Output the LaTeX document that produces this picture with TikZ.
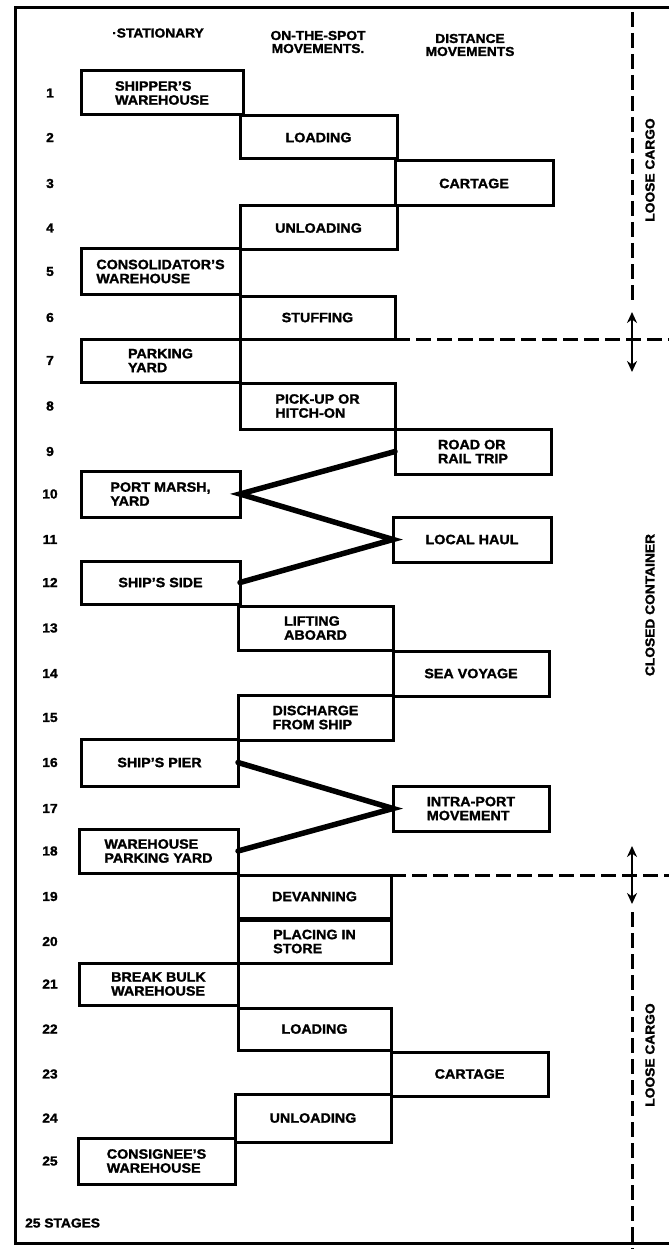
\documentclass[tikz,border=0pt]{standalone}
\usepackage{fontspec}
\setmainfont{Liberation Sans}[BoldFeatures={FakeBold=1.6,FakeStretch=1.06}]
\usetikzlibrary{arrows.meta}
\newcommand\bx[6]{\node[box, minimum width={(#4-#2)*1pt}, minimum height={(#5-#3)*1pt}] (#1) at ({(#2+#4)/2},{(#3+#5)/2}) {#6};}
\begin{document}
\begin{tikzpicture}[x=1pt,y=-1pt,
  box/.style={draw, line width=3pt, inner sep=0pt, outer sep=0pt, align=left,
    font=\bfseries\fontsize{13.5}{14}\selectfont},
  hdr/.style={font=\bfseries\fontsize{13}{13}\selectfont, align=center, inner sep=0pt},
  num/.style={font=\bfseries\fontsize{13}{13}\selectfont, inner sep=0pt},
  side/.style={font=\bfseries\fontsize{13}{13}\selectfont, rotate=90, inner sep=0pt},
  frame/.style={line width=3pt},
  link/.style={line width=5.5pt, line cap=round},
  divider/.style={line width=3pt, dash pattern=on 15pt off 6pt},
  dbl/.style={line width=2.8pt, {Stealth[length=11pt,width=10pt]}-{Stealth[length=11pt,width=10pt]}}]
\useasboundingbox (0,0) rectangle (669,1249);
% frame
\coordinate (ftr) at (669,8);
\coordinate (ftl) at (15,8);
\coordinate (fbl) at (15,1243);
\coordinate (fbr) at (669,1243);
\draw[frame] (ftr) -- (ftl) -- (fbl) -- (fbr);
% headers
\node[hdr] (h1) at (158,33) {·STATIONARY};
\node[hdr] (h2) at (318,42) {ON-THE-SPOT\\MOVEMENTS.};
\node[hdr] (h3) at (470,45) {DISTANCE\\MOVEMENTS};
% boxes
\bx{b1}{81}{71}{243}{115}{SHIPPER'S\\WAREHOUSE}
\bx{b2}{240}{116}{397}{159}{LOADING}
\bx{b3}{395}{161}{553}{206}{CARTAGE}
\bx{b4}{240}{206}{397}{250}{UNLOADING}
\bx{b5}{81}{249}{240}{294}{CONSOLIDATOR'S\\WAREHOUSE}
\bx{b6}{240}{296}{395}{339}{STUFFING}
\bx{b7}{81}{339}{240}{382}{PARKING\\YARD}
\bx{b8}{240}{383}{395}{429}{PICK-UP OR\\HITCH-ON}
\bx{b9}{395}{429}{551}{474}{ROAD OR\\RAIL TRIP}
\bx{b10}{81}{471}{240}{517}{PORT MARSH,\\YARD}
\bx{b11}{393}{517}{551}{562}{LOCAL HAUL}
\bx{b12}{81}{561}{240}{604}{SHIP'S SIDE}
\bx{b13}{238}{606}{393}{650}{LIFTING\\ABOARD}
\bx{b14}{393}{651}{549}{696}{SEA VOYAGE}
\bx{b15}{238}{695}{393}{740}{DISCHARGE\\FROM SHIP}
\bx{b16}{81}{739}{238}{786}{SHIP'S PIER}
\bx{b17}{393}{786}{549}{831}{INTRA-PORT\\MOVEMENT}
\bx{b18}{79}{829}{238}{873}{WAREHOUSE\\PARKING YARD}
\bx{b19}{238}{875}{391}{918}{DEVANNING}
\bx{b20}{238}{920}{391}{963}{PLACING IN\\STORE}
\bx{b21}{79}{963}{238}{1005}{BREAK BULK\\WAREHOUSE}
\bx{b22}{238}{1008}{391}{1050}{LOADING}
\bx{b23}{391}{1052}{548}{1096}{CARTAGE}
\bx{b24}{235}{1094}{391}{1142}{UNLOADING}
\bx{b25}{78}{1138}{235}{1184}{CONSIGNEE'S\\WAREHOUSE}
% row numbers
\foreach \i in {1,...,25}{\node[num] (n\i) at (b\i.center -| 50,0) {\i};}
\node[num, anchor=west] (stages) at (25,1223) {25 STAGES};
% diagonal links
\draw[link] (b9.west) -- (b10.east) -- (b11.west) -- (b12.east);
\draw[link] (b16.east) -- (b17.west) -- (b18.east);
% right-hand dividers
\coordinate (d1r) at (669,339);
\coordinate (d2r) at (669,875);
\draw[divider] (b6.south east) -- (d1r);
\draw[divider] (b19.north east) -- (d2r);
\coordinate (vtop) at (632,12);
\coordinate (vtopend) at (632,305);
\coordinate (a1t) at (632,312);
\coordinate (a1b) at (632,372);
\coordinate (a2t) at (632,846);
\coordinate (a2b) at (632,904);
\coordinate (vbotstart) at (632,912);
\coordinate (vbot) at (632,1249);
\draw[divider] (vtop) -- (vtopend);
\draw[divider] (vbotstart) -- (vbot);
\draw[dbl] (a1t) -- (a1b);
\draw[dbl] (a2t) -- (a2b);
\node[side] (lc1) at (650,170) {LOOSE CARGO};
\node[side] (cc) at (650,605) {CLOSED CONTAINER};
\node[side] (lc2) at (650,1055) {LOOSE CARGO};
\end{tikzpicture}
\end{document}
